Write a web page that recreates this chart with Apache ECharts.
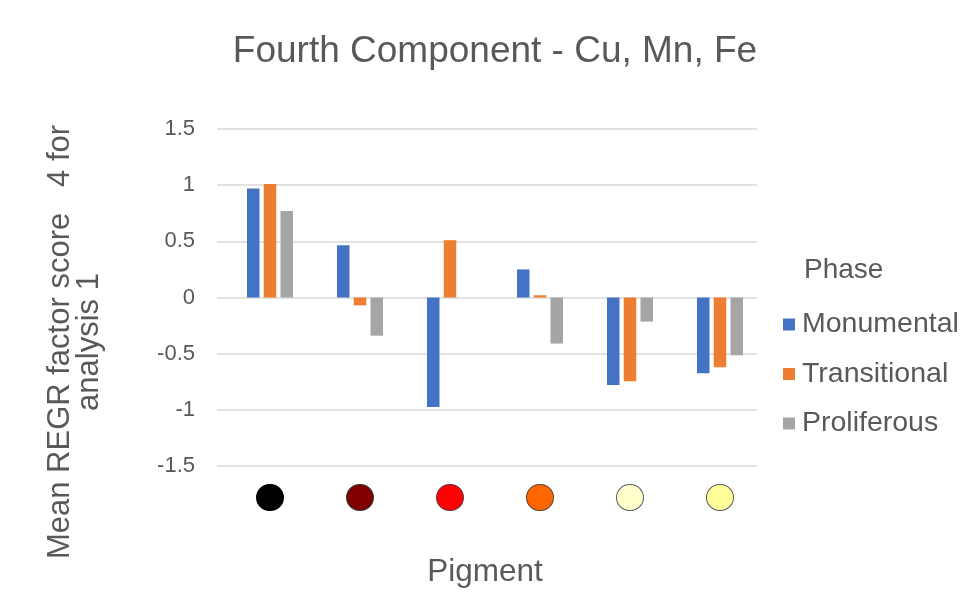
<!DOCTYPE html>
<html>
<head>
<meta charset="utf-8">
<script src="https://cdn.jsdelivr.net/npm/echarts@6/dist/echarts.min.js"></script>
<style>
  html, body { margin: 0; padding: 0; background: #fff; }
  #chart { width: 964px; height: 615px; }
</style>
</head>
<body>
<div id="chart"></div>
<script>
// Pigment swatch colours (one category per pigment)
const pigments = ['#000000', '#800000', '#FF0000', '#FF6600', '#FFFFCC', '#FFFF99'];
const swatchBorders = ['#000000', '#3a3a3a', '#5a3a3a', '#5a4030', '#5a5a5a', '#5a5a5a'];

// Mean REGR factor score 4 per phase
const monumental   = [0.97, 0.465, -0.975, 0.25, -0.78, -0.675];
const transitional = [1.01, -0.07, 0.51, 0.02, -0.745, -0.62];
const proliferous  = [0.77, -0.34, 0, -0.41, -0.215, -0.515];

const phases = ['Monumental', 'Transitional', 'Proliferous'];
const phaseColors = ['#4472C4', '#ED7D31', '#A5A5A5'];

const yMin = -1.5, yMax = 1.5, yStep = 0.5;

const FONT = '"Liberation Sans", Arial, sans-serif';
const TEXT = '#595959';

const rich = {};
pigments.forEach((c, i) => {
  rich['p' + i] = {
    width: 26, height: 25, borderRadius: 13,
    backgroundColor: c, borderColor: swatchBorders[i], borderWidth: 1
  };
});

const chart = echarts.init(document.getElementById('chart'), null, { renderer: 'canvas' });

chart.setOption({
  backgroundColor: '#ffffff',
  animation: false,
  title: {
    text: 'Fourth Component - Cu, Mn, Fe',
    left: 490, top: 28, textAlign: 'center',
    textStyle: { fontFamily: FONT, fontSize: 37, fontWeight: 'normal', color: TEXT }
  },
  legend: {
    orient: 'vertical',
    left: 778, top: 305,
    itemWidth: 12, itemHeight: 12, itemGap: 20.5,
    icon: 'rect',
    data: phases,
    textStyle: { fontFamily: FONT, fontSize: 28.5, color: TEXT, padding: [0, 0, 0, 2] }
  },
  graphic: [
    {
      type: 'text', left: 804, top: 256,
      style: { text: 'Phase', font: '28px ' + FONT, fill: TEXT }
    },
    {
      type: 'text', x: 75, y: 342, rotation: Math.PI / 2,
      style: {
        text: 'Mean REGR factor score   4 for\nanalysis 1',
        font: '31px ' + FONT, fill: TEXT,
        textAlign: 'center', verticalAlign: 'middle', lineHeight: 29
      }
    },
    {
      type: 'text', x: 485, y: 572,
      style: {
        text: 'Pigment', font: '31.5px ' + FONT, fill: TEXT,
        textAlign: 'center', verticalAlign: 'middle'
      }
    }
  ],
  grid: [
    { left: 217, width: 540, top: 129, bottom: 149 },
    { left: 225, width: 540, top: 129, bottom: 149 }
  ],
  xAxis: [
    { type: 'category', gridIndex: 0, data: pigments, show: false },
    {
      type: 'category', gridIndex: 1, data: pigments, position: 'bottom',
      axisLine: { show: false, onZero: false }, axisTick: { show: false },
      axisLabel: {
        margin: 19,
        formatter: (v, idx) => '{p' + idx + '| }',
        rich: rich
      }
    }
  ],
  yAxis: [
    {
      type: 'value', gridIndex: 0, min: yMin, max: yMax, interval: yStep,
      axisLine: { show: false }, axisTick: { show: false },
      axisLabel: { margin: 22, fontFamily: FONT, fontSize: 22, color: TEXT },
      splitLine: { lineStyle: { color: '#d9d9d9', width: 1.5 } }
    },
    {
      type: 'value', gridIndex: 1, min: yMin, max: yMax, interval: yStep,
      show: false, splitLine: { show: false }
    }
  ],
  series: [monumental, transitional, proliferous].map((vals, i) => ({
    name: phases[i],
    type: 'bar',
    xAxisIndex: 1, yAxisIndex: 1,
    data: vals,
    barWidth: 12.5,
    barGap: '34%',
    itemStyle: { color: phaseColors[i] }
  }))
});
</script>
</body>
</html>
